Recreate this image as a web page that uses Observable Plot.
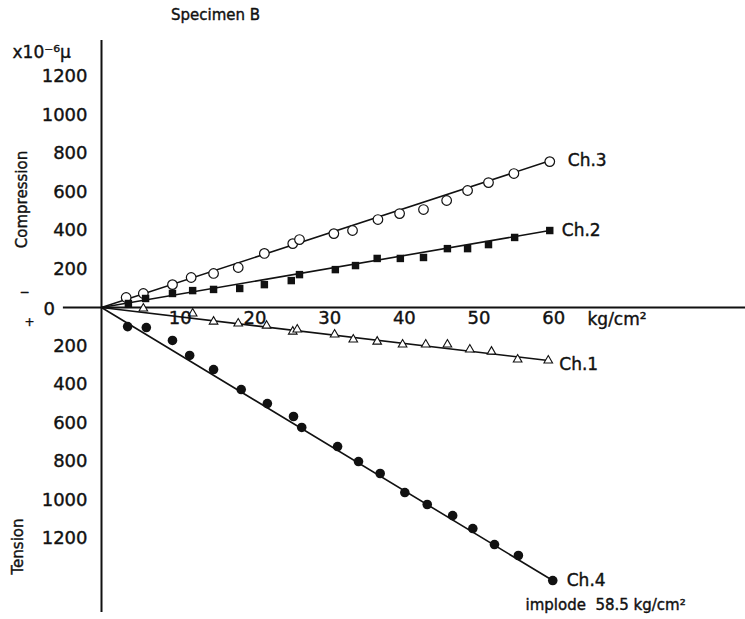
<!DOCTYPE html>
<html>
<head>
<meta charset="utf-8">
<script src="https://cdn.jsdelivr.net/npm/d3@7"></script>
<script src="https://cdn.jsdelivr.net/npm/@observablehq/plot@0.6"></script>
<style>
  html, body { margin: 0; padding: 0; background: #fff; }
  svg { display: block; }
</style>
</head>
<body>
<div id="chart"></div>
<script>
// Load (kg/cm²) vs strain (x10^-6); compression positive, tension negative
const ch3 = [[3.3,52],[5.6,73],[9.5,119],[12.0,156],[15.0,177],[18.3,208],[21.8,281],[25.6,332],[26.5,353],[31.1,384],[33.6,400],[37.0,457],[39.9,488],[43.1,509],[46.2,556],[49.0,608],[51.8,649],[55.2,696],[60.0,758]];
const ch2 = [[3.6,21],[5.9,47],[9.5,73],[12.2,88],[15.0,94],[18.5,99],[21.8,119],[25.4,140],[26.5,171],[31.3,197],[34.0,218],[36.9,255],[40.0,255],[43.1,260],[46.3,306],[49.0,306],[51.8,327],[55.3,364],[60.0,400]];
const ch1 = [[5.6,-5],[12.2,-31],[15.0,-73],[18.3,-83],[22.1,-94],[25.6,-125],[26.2,-114],[31.2,-140],[33.7,-166],[36.9,-177],[40.3,-192],[43.4,-192],[46.3,-192],[49.3,-218],[52.2,-229],[55.7,-270],[59.8,-275]];
const ch4 = [[3.5,-99],[6.0,-104],[9.5,-171],[11.8,-249],[15.0,-322],[18.7,-426],[22.2,-499],[25.7,-566],[26.8,-623],[31.6,-722],[34.4,-800],[37.3,-862],[40.6,-961],[43.6,-1023],[47.0,-1081],[49.7,-1148],[52.6,-1231],[55.8,-1288],[60.4,-1418]];
// fitted lines from origin to end value
const fit3 = [[0,0],[60.0,762]];
const fit2 = [[0,0],[60.0,400]];
const fit1 = [[0,0],[59.8,-275]];
const fit4 = [[0,0],[60.4,-1418]];
const xTicks = [10,20,30,40,50,60];
const yTicks = [1200,1000,800,600,400,200,-200,-400,-600,-800,-1000,-1200];
const seriesLabels = ["Ch.3","Ch.2","Ch.1","Ch.4"];

const FONT = "DejaVu Sans, sans-serif";
const ML = 101, MT = 40;
const heavy = {fill: "#111", stroke: "#111", strokeWidth: 0.4};
function note(text, px, py, opts = {}) {
  return Plot.text([text], Object.assign({
    text: d => d, frameAnchor: "top-left", lineAnchor: "middle",
    dx: px - ML, dy: py - MT, fontSize: 16
  }, heavy, opts));
}

const chart = Plot.plot({
  width: 745, height: 619,
  marginLeft: ML, marginRight: 0, marginTop: MT, marginBottom: 7,
  x: {domain: [0, 86.2], axis: null},
  y: {domain: [-1584, 1387], axis: null},
  style: {fontFamily: FONT, background: "#fff", color: "#111"},
  marks: [
    Plot.ruleX([0], {stroke: "#111", strokeWidth: 2}),
    Plot.ruleY([0], {x1: -5.1, x2: 86.2, stroke: "#111", strokeWidth: 2}),
    Plot.line(fit3, {x: "0", y: "1", stroke: "#111", strokeWidth: 1.6}),
    Plot.line(fit2, {x: "0", y: "1", stroke: "#111", strokeWidth: 1.6}),
    Plot.line(fit1, {x: "0", y: "1", stroke: "#111", strokeWidth: 1.6}),
    Plot.line(fit4, {x: "0", y: "1", stroke: "#111", strokeWidth: 1.6}),
    Plot.dot(ch3, {x: "0", y: "1", r: 4.8, stroke: "#111", strokeWidth: 1.2, fill: "#fff"}),
    Plot.dot(ch2, {x: "0", y: "1", symbol: "square", r: 4.2, fill: "#111", stroke: "none"}),
    Plot.dot(ch1, {x: "0", y: "1", symbol: "triangle", r: 3.2, stroke: "#111", strokeWidth: 1.1, fill: "#fff"}),
    Plot.dot(ch4, {x: "0", y: "1", r: 4.8, fill: "#111", stroke: "none"}),
    // x tick labels along the zero line
    Plot.text(xTicks, {x: d => d, y: 0, text: d => String(d), dx: 4, dy: 11, fontSize: 18, ...heavy}),
    // y tick labels (absolute values)
    Plot.text(yTicks, {y: d => d, text: d => String(Math.abs(d)), frameAnchor: "left", dx: -14, textAnchor: "end", fontSize: 18, ...heavy}),
    Plot.text([0], {y: d => d, text: () => "0", frameAnchor: "left", dx: -58, dy: 2, fontSize: 18, ...heavy}),
    // series labels at line ends
    Plot.text([fit3[1]], {x: "0", y: "1", text: () => seriesLabels[0], dx: 18, dy: 0, textAnchor: "start", fontSize: 17, ...heavy}),
    Plot.text([fit2[1]], {x: "0", y: "1", text: () => seriesLabels[1], dx: 12, dy: 0, textAnchor: "start", fontSize: 17, ...heavy}),
    Plot.text([fit1[1]], {x: "0", y: "1", text: () => seriesLabels[2], dx: 11, dy: 4, textAnchor: "start", fontSize: 17, ...heavy}),
    Plot.text([fit4[1]], {x: "0", y: "1", text: () => seriesLabels[3], dx: 14, dy: 0, textAnchor: "start", fontSize: 17, ...heavy}),
    // annotations
    note("Specimen B", 215, 15, {textAnchor: "middle", fontSize: 15}),
    note("x10⁻⁶μ", 12, 52, {textAnchor: "start", fontSize: 17}),
    note("Compression", 22, 199, {rotate: -90, textAnchor: "middle", fontSize: 15}),
    note("Tension", 18, 546, {rotate: -90, textAnchor: "middle", fontSize: 15}),
    note("−", 24, 292, {textAnchor: "middle", fontSize: 12}),
    note("+", 29, 322, {textAnchor: "middle", fontSize: 12}),
    note("kg/cm²", 587, 319, {textAnchor: "start", fontSize: 17}),
    note("implode  58.5 kg/cm²", 525, 605, {textAnchor: "start", fontSize: 15})
  ]
});
document.getElementById("chart").append(chart);
</script>
</body>
</html>
